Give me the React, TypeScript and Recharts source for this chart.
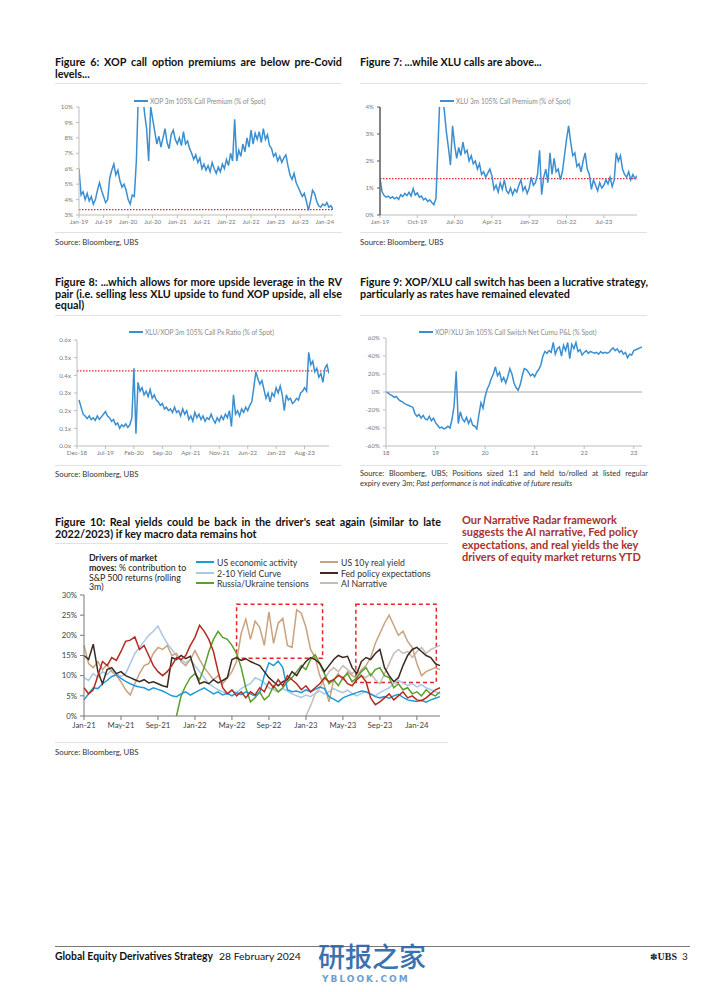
import React from "react";
import { LineChart, Line, XAxis, YAxis, ReferenceLine, ReferenceArea } from "recharts";

const FONT = "Lato, 'Open Sans', sans-serif";
const BLUE = "#3b8fd0";
const RED_DOT = "#e3262b";
const HALF = 0.5; // semi-monthly sampling step (months)
const TITLE_SIZE = 10.8;

// ---------- Figure 6: XOP 3m 105% call premium (% of spot), Jan-19 .. Feb-24 ----------
const fig6Values = [
  6.0, 4.3, 4.5, 4.0, 4.4, 3.9, 4.2, 3.7, 4.0, 4.6,
  5.1, 4.6, 4.2, 3.8, 4.0, 5.4, 5.9, 6.3, 5.6, 5.9,
  5.2, 4.8, 5.0, 4.6, 4.0, 3.7, 4.3, 4.2, 6.5, 11.0,
  12.0, 11.0, 9.6, 8.6, 6.5, 10.0, 9.2, 8.4, 7.6, 8.1,
  7.4, 8.0, 8.6, 7.7, 7.3, 8.2, 8.5, 7.9, 7.6, 8.0,
  7.5, 8.4, 7.6, 7.8, 7.3, 7.0, 6.6, 6.9, 6.4, 6.7,
  6.0, 6.3, 5.9, 6.2, 5.8, 6.4, 6.0, 5.7, 6.1, 5.8,
  6.3, 6.0, 6.6, 6.2, 7.0, 6.5, 9.2, 6.5, 7.2, 6.8,
  7.6, 7.1, 8.0, 7.4, 8.5, 7.6, 8.3, 7.9, 8.4, 7.7,
  8.6, 7.9, 8.2, 7.5, 7.3, 6.8, 7.0, 6.5, 6.8, 6.4,
  6.7, 6.9, 6.2, 5.6, 5.3, 5.7, 5.1, 4.8, 4.5, 4.2,
  4.4, 3.9, 3.3, 3.9, 4.6, 4.4, 3.9, 3.6, 3.5, 3.7,
  3.6, 3.8, 3.5, 3.6, 3.35,
];
const fig6Ticks = [0, 6, 12, 18, 24, 30, 36, 42, 48, 54, 60];
const fig6Labels = ["Jan-19", "Jul-19", "Jan-20", "Jul-20", "Jan-21", "Jul-21", "Jan-22", "Jul-22", "Jan-23", "Jul-23", "Jan-24"];
const fig6YTicks = [3, 4, 5, 6, 7, 8, 9, 10];
const fig6Ref = 3.35;

// ---------- Figure 7: XLU 3m 105% call premium (% of spot) ----------
const fig7Values = [
  1.36, 0.86, 0.72, 0.66, 0.70, 0.62, 0.68, 0.60, 0.66, 0.58,
  0.75, 0.68, 0.80, 0.72, 0.84, 0.70, 0.98, 0.74, 0.82, 0.66,
  0.70, 0.56, 0.62, 0.50, 0.56, 0.46, 0.38, 0.62, 2.6, 4.6,
  4.4, 3.9, 3.1, 2.5, 1.85, 3.3, 2.6, 2.1, 2.5, 2.2,
  2.7, 2.3, 2.4, 2.0, 2.2, 1.9, 2.0, 1.7, 1.9, 1.5,
  1.6, 1.4, 1.55, 1.7, 1.45, 0.95, 1.1, 0.85, 1.2, 0.95,
  1.3, 0.9, 0.8, 1.0, 0.75, 0.95, 0.85, 1.1, 1.3, 0.9,
  1.05, 0.8, 1.0, 1.4, 1.1, 1.2, 1.5, 2.4, 0.75, 1.4,
  1.7, 1.2, 2.3, 1.5, 2.1, 1.6, 1.7, 1.3, 1.6, 2.2,
  2.8, 3.3, 2.7, 2.2, 2.3, 1.8, 1.9, 1.6, 2.0, 2.3,
  1.7, 1.5, 0.95, 1.3, 1.1, 0.9, 1.2, 1.0, 1.1, 1.3,
  1.15, 1.4, 1.05, 1.3, 2.3, 2.0, 2.2, 1.7, 1.5, 1.4,
  1.6, 1.3, 1.5, 1.35, 1.45,
];
const fig7Ticks = [0, 9, 18, 27, 36, 45, 54];
const fig7Labels = ["Jan-19", "Oct-19", "Jul-20", "Apr-21", "Jan-22", "Oct-22", "Jul-23"];
const fig7YTicks = [0, 1, 2, 3, 4];
const fig7Ref = 1.35;

// ---------- Figure 8: XLU/XOP 3m 105% call px ratio, starts half a month after Dec-18 ----------
const fig8Start = 0.5;
const fig8Values = [
  0.26, 0.22, 0.18, 0.17, 0.155, 0.17, 0.15, 0.16, 0.145, 0.17,
  0.15, 0.165, 0.18, 0.195, 0.17, 0.16, 0.14, 0.15, 0.12, 0.13,
  0.10, 0.12, 0.11, 0.125, 0.105, 0.12, 0.16, 0.44, 0.07, 0.36,
  0.31, 0.33, 0.29, 0.31, 0.28, 0.32, 0.27, 0.29, 0.26, 0.25,
  0.23, 0.24, 0.21, 0.22, 0.2, 0.21, 0.19, 0.22, 0.19, 0.2,
  0.17, 0.21, 0.18, 0.2, 0.15, 0.17, 0.14, 0.19, 0.16, 0.18,
  0.15, 0.17, 0.14, 0.16, 0.15, 0.18, 0.15, 0.13, 0.16, 0.14,
  0.17, 0.15, 0.18, 0.16, 0.2, 0.11, 0.29, 0.18, 0.2, 0.17,
  0.21, 0.19, 0.22, 0.2, 0.23, 0.25, 0.33, 0.42, 0.38, 0.35,
  0.37, 0.32, 0.27, 0.3, 0.25, 0.3, 0.28, 0.33, 0.3, 0.34,
  0.29, 0.2, 0.29, 0.26, 0.27, 0.24, 0.25, 0.27, 0.26, 0.3,
  0.31, 0.33, 0.31, 0.53, 0.46, 0.48, 0.42, 0.44, 0.39, 0.41,
  0.36, 0.44, 0.46, 0.41,
];
const fig8Ticks = [0, 7, 14, 21, 28, 35, 42, 49, 56];
const fig8Labels = ["Dec-18", "Jul-19", "Feb-20", "Sep-20", "Apr-21", "Nov-21", "Jun-22", "Jan-23", "Aug-23"];
const fig8YTicks = [0, 0.1, 0.2, 0.3, 0.4, 0.5, 0.6];
const fig8Ref = 0.425;

// ---------- Figure 9: XOP/XLU 3m 105% call switch net cumulative P&L (% spot) ----------
const fig9Values = [
  0, -1, -3, -4, -6, -5, -8, -10, -11, -13,
  -14, -15, -16, -17, -24, -27, -25, -29, -26, -30,
  -31, -27, -32, -29, -34, -37, -40, -39, -41, -40,
  -38, -40, -30, -15, 23, -35, -22, -30, -33, -28,
  -35, -30, -37, -38, -41, -25, -12, -18, -5, 3,
  8, 15, 20, 28, 18, 22, 12, 16, 10, 17,
  26, 20, 10, 5, 2, 8, 18, 26, 25, 22,
  18, 20, 17, 22, 25, 30, 40, 45, 43, 46,
  44, 55, 42, 48, 50, 40, 52, 46, 55, 37,
  53, 48, 55, 45, 47, 41, 44, 46, 43, 45,
  44, 43, 44, 42, 45, 43, 44, 43, 44, 47,
  49, 46, 48, 44, 46, 42, 44, 38, 42, 41,
  46, 47, 48, 49, 50,
];
const fig9Ticks = [0, 12, 24, 36, 48, 60];
const fig9Labels = ["18", "19", "20", "21", "22", "23"];
const fig9YTicks = [-60, -40, -20, 0, 20, 40, 60];

// ---------- Figure 10: Drivers of market moves (% contribution), Jan-21 .. mid Mar-24 ----------
const fig10Blue = [
  4.0, 5.5, 7.0, 6.8, 8.0, 8.8, 9.8, 10.2, 9.3, 8.6,
  8.0, 7.5, 7.2, 7.0, 6.4, 7.0, 6.6, 6.2, 5.6, 5.0,
  4.8, 5.5, 6.0, 5.2, 5.8, 6.4, 7.0, 6.2, 5.5, 6.0,
  5.2, 5.6, 5.0, 5.8, 5.3, 6.0, 5.5, 5.0, 5.8, 10.0,
  13.2, 12.5, 13.6, 12.0, 6.5, 6.0, 6.2, 5.8, 6.5, 6.0,
  6.6, 7.2, 6.8, 4.8, 4.2, 3.5, 4.5, 5.0, 5.4, 5.8,
  6.2, 6.0, 5.5, 4.8, 4.5, 4.8, 4.4, 5.0, 5.4, 4.6,
  4.0, 3.8, 3.6, 3.9, 3.4, 4.0, 4.4, 4.8,
];
const fig10LightBlue = [
  9.5, 8.8, 10.5, 9.6, 11.0, 10.2, 11.5, 10.5, 9.8, 10.5,
  13.0, 15.5, 17.0, 18.5, 20.0, 21.0, 22.3, 20.0, 18.0, 16.5,
  15.0, 14.0, 13.2, 14.0, 12.5, 11.0, 9.5, 8.0, 7.2, 6.5,
  6.0, 5.5, 6.2, 5.8, 6.8, 7.5, 8.0, 9.5, 9.0, 8.2,
  7.0, 6.5, 6.0, 6.8, 6.2, 5.5, 5.0, 4.6, 5.2, 4.8,
  5.6, 6.2, 5.5, 6.0, 6.8, 6.2, 5.8, 6.4, 5.6, 5.0,
  5.6, 6.0, 5.4, 5.0, 5.8, 6.4, 7.0, 8.0, 8.8, 8.2,
  7.5, 8.0, 7.2, 7.8, 7.0, 6.5, 6.0, 5.5,
];
const fig10Green = [
  null, null, null, null, null, null, null, null, null, null,
  null, null, null, null, null, null, null, null, null, null,
  0, 5.0, 7.5, 9.5, 10.5, 9.0, 12.0, 16.0, 19.0, 21.0,
  19.5, 19.0, 17.5, 15.5, 12.0, 7.0, 3.5, 4.5, 6.0, 4.0,
  5.0, 7.5, 6.0, 7.0, 8.5, 9.5, 11.0, 12.5, 11.5, 14.0,
  15.2, 13.0, 10.5, 8.0, 9.0, 7.5, 9.5, 10.5, 8.5, 9.5,
  11.0, 12.0, 10.0, 11.5, 12.0, 10.0, 9.5, 7.0, 8.0, 6.5,
  7.0, 5.5, 6.0, 5.0, 6.5, 5.5, 5.0, 6.0,
];
const fig10Tan = [
  17.5, 13.0, 12.0, 13.5, 11.5, 12.8, 11.0, 10.0, 8.5, 6.5,
  5.2, 8.0, 10.5, 12.5, 13.0, 15.5, 17.0, 16.5, 17.5, 15.0,
  15.5, 13.5, 12.5, 14.0, 16.2, 14.0, 12.0, 10.5, 9.0, 10.0,
  8.0, 9.5, 11.0, 13.5, 20.5, 24.0, 19.0, 23.5, 22.0, 17.5,
  25.8, 18.0, 23.0, 24.2, 17.5, 17.0, 26.3, 25.5, 22.0, 16.5,
  14.5, 10.0, 7.5, 3.5, 9.0, 10.5, 9.0, 11.0, 10.0, 9.5,
  11.5, 12.5, 14.5, 18.0, 20.5, 23.0, 25.0, 22.5, 20.0, 21.0,
  18.5, 17.0, 13.0, 10.0, 11.0, 11.5, 12.0, 11.5,
];
const fig10Dark = [
  15.0, 14.0, 17.8, 11.0, 8.0, 11.5, 12.0, 10.5, 11.0, 10.0,
  9.5, 9.0, 8.5, 9.0, 8.2, 8.5, 8.0, 7.5, 7.2, 14.5,
  14.0, 15.0, 14.2, 14.8, 11.0, 8.0, 8.5, 8.0, 9.0, 8.2,
  8.8, 9.5, 14.0, 14.5, 13.8, 14.2, 13.5, 13.0, 12.5, 11.0,
  9.5, 8.5, 7.5, 8.5, 9.0, 11.0, 10.0, 12.0, 13.5, 14.5,
  14.0, 13.0, 11.0, 12.5, 14.0, 15.0, 14.5, 14.8, 12.0, 10.5,
  13.5, 14.5, 14.0, 15.5, 16.5, 12.0, 10.0, 8.5, 9.5, 12.5,
  15.0, 16.5, 17.0, 16.0, 15.0, 14.5, 13.0, 12.5,
];
const fig10AI = [
  null, null, null, null, null, null, null, null, null, null,
  null, null, null, null, null, null, null, null, null, null,
  null, null, null, null, null, null, null, null, null, null,
  null, null, null, null, null, null, null, null, null, null,
  null, null, null, null, null, null, null, null,
  0, 2.5, 5.5, 7.0, 9.0, 11.0, 12.0, 11.0, 12.5, 11.5,
  10.5, 11.5, 10.0, 9.5, 10.5, 9.0, 8.0, 10.5, 13.0, 15.5,
  16.5, 15.5, 16.0, 14.5, 16.0, 17.0, 15.5, 16.5, 17.0, 17.5,
];
const fig10Red = [
  7.0, 5.5, 6.5, 10.0, 13.5, 12.5, 14.5, 13.8, 16.0, 18.5,
  18.8, 19.6, 16.5, 17.5, 15.0, 12.5, 11.0, 10.0, 11.0, 12.5,
  14.5, 14.0, 15.0, 17.5, 19.5, 22.5, 21.0, 19.0, 16.0, 11.0,
  7.0, 5.5, 6.5, 5.0, 6.0, 4.5, 6.0, 5.2, 7.0, 6.0,
  8.5, 7.0, 9.0, 7.5, 10.0, 9.0, 8.0, 6.5, 7.5, 6.0,
  7.0, 8.0, 9.5, 8.5, 9.0, 10.0, 9.5, 8.0, 7.5, 9.0,
  10.0, 8.5, 4.5, 2.8, 3.5, 4.5, 5.5, 4.0, 5.0, 6.0,
  4.5, 5.0, 4.0, 3.8, 4.5, 5.5, 6.5, 7.0,
];
const fig10Ticks = [0, 4, 8, 12, 16, 20, 24, 28, 32, 36];
const fig10Labels = ["Jan-21", "May-21", "Sep-21", "Jan-22", "May-22", "Sep-22", "Jan-23", "May-23", "Sep-23", "Jan-24"];
const fig10YTicks = [0, 5, 10, 15, 20, 25, 30];
const fig10Box1 = { x1: 16.5, x2: 25.8, y1: 14.3, y2: 27.7 };
const fig10Box2 = { x1: 29.4, x2: 38.1, y1: 8.3, y2: 27.7 };

const C = {
  blue: "#1e9bd7",
  lightBlue: "#a9c7e6",
  green: "#5b9e2d",
  tan: "#c9a27e",
  dark: "#3a2a22",
  ai: "#c6beb6",
  red: "#b52a1f",
};

const toRows = (vals: (number | null)[], start = 0) => vals.map((v, i) => ({ m: start + i * HALF, v }));

const fig10Rows = fig10Blue.map((_, i) => ({
  m: i * HALF,
  blue: fig10Blue[i],
  lightBlue: fig10LightBlue[i],
  green: fig10Green[i],
  tan: fig10Tan[i],
  dark: fig10Dark[i],
  ai: fig10AI[i],
  red: fig10Red[i],
}));

type TitleProps = { left: number; top: number; width: number; lines: React.ReactNode[]; size?: number; lh?: number; color?: string; weight?: number; justify?: boolean };
const TextBlock = ({ left, top, width, lines, size = TITLE_SIZE, lh = 12, color = "#111", weight = 700, justify = true }: TitleProps) => (
  <div style={{ position: "absolute", left, top, width, fontFamily: FONT, fontWeight: weight, fontSize: size, lineHeight: `${lh}px`, color }}>
    {lines.map((l, i) => {
      const j = justify && i < lines.length - 1;
      return (
        <div key={i} style={{ textAlign: j ? "justify" : "left", textAlignLast: j ? "justify" : "left", whiteSpace: "nowrap" } as React.CSSProperties}>
          {l}
        </div>
      );
    })}
  </div>
);

const Rule = ({ left, top, width, color = "#e2e2e2" }: { left: number; top: number; width: number; color?: string }) => (
  <div style={{ position: "absolute", left, top, width, height: 1, background: color }} />
);

const MiniLegend = ({ left, top, text }: { left: number; top: number; text: string }) => (
  <div style={{ position: "absolute", left, top, display: "flex", alignItems: "center", fontFamily: FONT, fontSize: 6.6, color: "#8a8a8a", whiteSpace: "nowrap" }}>
    <div style={{ width: 14, height: 1.8, background: BLUE, marginRight: 2 }} />
    <span>{text}</span>
  </div>
);

type SmallProps = {
  left: number; top: number; width: number; height: number;
  data: { m: number; v: number | null }[];
  xDomain: [number, number]; xTicks: number[]; xLabels: string[];
  yDomain: [number, number]; yTicks: number[]; yFormat: (v: number) => string;
  yAxisWidth: number; margin: { top: number; right: number; bottom: number; left: number };
  xAxisHeight: number; refY?: number; zeroLine?: boolean; axisColor: string; axisWidth?: number;
};

const SmallChart = (p: SmallProps) => {
  const tick = { fontSize: 6.2, fill: "#7a7a7a", fontFamily: FONT };
  return (
    <div style={{ position: "absolute", left: p.left, top: p.top }}>
      <LineChart width={p.width} height={p.height} data={p.data} margin={p.margin}>
        <XAxis
          dataKey="m" type="number" domain={p.xDomain} ticks={p.xTicks} interval={0}
          tickFormatter={(v: number) => p.xLabels[p.xTicks.indexOf(v)] ?? ""}
          height={p.xAxisHeight} tick={tick} tickSize={3} tickMargin={2}
          axisLine={{ stroke: "#bdbdbd" }} tickLine={{ stroke: "#bdbdbd" }} allowDataOverflow
        />
        <YAxis
          type="number" domain={p.yDomain} ticks={p.yTicks} interval={0} tickFormatter={p.yFormat}
          width={p.yAxisWidth} tick={tick} tickSize={3} tickMargin={3}
          axisLine={{ stroke: p.axisColor, strokeWidth: p.axisWidth ?? 1 }} tickLine={{ stroke: p.axisColor }} allowDataOverflow
        />
        {p.zeroLine && <ReferenceLine y={0} stroke="#a8a8a8" strokeWidth={1} />}
        {p.refY !== undefined && (
          <ReferenceLine y={p.refY} stroke={RED_DOT} strokeDasharray="1.5 1.5" strokeWidth={1.2} />
        )}
        <Line dataKey="v" type="linear" stroke={BLUE} strokeWidth={1.5} dot={false} isAnimationActive={false} />
      </LineChart>
    </div>
  );
};

const LegendItem = ({ left, top, color, text }: { left: number; top: number; color: string; text: string }) => (
  <div style={{ position: "absolute", left, top, display: "flex", alignItems: "center", fontFamily: FONT, fontSize: 8.7, color: "#333", whiteSpace: "nowrap", height: 10 }}>
    <div style={{ width: 18, height: 2.2, background: color, marginRight: 3 }} />
    <span>{text}</span>
  </div>
);

export default function App() {
  const tick10 = { fontSize: 7.8, fill: "#444", fontFamily: FONT };
  const srcProps = { size: 7.8, lh: 10, weight: 400, color: "#333", justify: false };
  return (
    <div style={{ position: "absolute", left: 0, top: 0, width: 702, height: 992, background: "#fff", overflow: "hidden" }}>
      {/* Figure 6 */}
      <TextBlock left={55} top={56} width={287} lines={["Figure 6: XOP call option premiums are below pre-Covid", "levels..."]} />
      <Rule left={55} top={83} width={287} />
      <MiniLegend left={134} top={97} text="XOP 3m 105% Call Premium (% of Spot)" />
      <SmallChart
        left={35} top={97} width={305} height={138}
        data={toRows(fig6Values)} xDomain={[0, 62]} xTicks={fig6Ticks} xLabels={fig6Labels}
        yDomain={[3, 10]} yTicks={fig6YTicks} yFormat={(v) => `${v}%`}
        yAxisWidth={44} margin={{ top: 10, right: 7, bottom: 6, left: 0 }} xAxisHeight={14}
        refY={fig6Ref} axisColor="#bdbdbd"
      />
      <Rule left={55} top={232} width={287} />
      <TextBlock left={55} top={237} width={287} lines={["Source: Bloomberg, UBS"]} {...srcProps} />

      {/* Figure 7 */}
      <TextBlock left={360} top={56} width={287} lines={["Figure 7: ...while XLU calls are above..."]} justify={false} />
      <Rule left={360} top={83} width={287} />
      <MiniLegend left={440} top={97} text="XLU 3m 105% Call Premium (% of Spot)" />
      <SmallChart
        left={340} top={97} width={305} height={138}
        data={toRows(fig7Values)} xDomain={[0, 62]} xTicks={fig7Ticks} xLabels={fig7Labels}
        yDomain={[0, 4]} yTicks={fig7YTicks} yFormat={(v) => `${v}%`}
        yAxisWidth={40} margin={{ top: 10, right: 8, bottom: 6, left: 0 }} xAxisHeight={14}
        refY={fig7Ref} axisColor="#5a5a5a" axisWidth={1.5}
      />
      <Rule left={360} top={232} width={287} />
      <TextBlock left={360} top={237} width={287} lines={["Source: Bloomberg, UBS"]} {...srcProps} />

      {/* Figure 8 */}
      <TextBlock left={55} top={276} width={287} lines={["Figure 8: ...which allows for more upside leverage in the RV", "pair (i.e. selling less XLU upside to fund XOP upside, all else", "equal)"]} lh={11.7} />
      <Rule left={55} top={315} width={287} />
      <MiniLegend left={129} top={328} text="XLU/XOP 3m 105% Call Px Ratio (% of Spot)" />
      <SmallChart
        left={35} top={330} width={302} height={130}
        data={toRows(fig8Values, fig8Start)} xDomain={[0, 62]} xTicks={fig8Ticks} xLabels={fig8Labels}
        yDomain={[0, 0.6]} yTicks={fig8YTicks} yFormat={(v) => `${v.toFixed(1)}x`}
        yAxisWidth={42} margin={{ top: 10, right: 8, bottom: 0, left: 0 }} xAxisHeight={14}
        refY={fig8Ref} axisColor="#bdbdbd"
      />
      <Rule left={55} top={465} width={287} />
      <TextBlock left={55} top={469} width={287} lines={["Source: Bloomberg, UBS"]} {...srcProps} />

      {/* Figure 9 */}
      <TextBlock left={360} top={276} width={288} lines={["Figure 9: XOP/XLU call switch has been a lucrative strategy,", "particularly as rates have remained elevated"]} lh={11.7} />
      <Rule left={360} top={315} width={287} />
      <MiniLegend left={419} top={328} text="XOP/XLU 3m 105% Call Switch Net Cumu P&L (% Spot)" />
      <SmallChart
        left={345} top={328} width={305} height={132}
        data={toRows(fig9Values)} xDomain={[0, 62]} xTicks={fig9Ticks} xLabels={fig9Labels}
        yDomain={[-60, 60]} yTicks={fig9YTicks} yFormat={(v) => `${v}%`}
        yAxisWidth={41} margin={{ top: 10, right: 8, bottom: 0, left: 0 }} xAxisHeight={14}
        zeroLine axisColor="#bdbdbd"
      />
      <Rule left={360} top={465} width={287} />
      <TextBlock
        left={360} top={469} width={288} size={7.5} lh={9.5} weight={400} color="#333"
        lines={[
          "Source: Bloomberg, UBS; Positions sized 1:1 and held to/rolled at listed regular",
          <span key="s">expiry every 3m; <i>Past performance is not indicative of future results</i></span>,
        ]}
      />

      {/* Figure 10 */}
      <TextBlock left={55} top={516} width={386} lines={["Figure 10: Real yields could be back in the driver's seat again (similar to late", "2022/2023) if key macro data remains hot"]} />
      <Rule left={55} top={543} width={393} />
      <TextBlock
        left={462} top={514} width={225} color="#a8322d" size={11}
        lines={["Our Narrative Radar framework", "suggests the AI narrative, Fed policy", "expectations, and real yields the key", "drivers of equity market returns YTD"]}
        justify={false} lh={12.3}
      />
      <div style={{ position: "absolute", left: 89, top: 553, width: 110, fontFamily: FONT, fontSize: 8.8, lineHeight: "9.8px", color: "#222", whiteSpace: "nowrap" }}>
        <b>Drivers of market</b><br /><b>moves:</b> % contribution to<br />S&amp;P 500 returns (rolling<br />3m)
      </div>
      <LegendItem left={196} top={557} color={C.blue} text="US economic activity" />
      <LegendItem left={196} top={568} color={C.lightBlue} text="2-10 Yield Curve" />
      <LegendItem left={196} top={578} color={C.green} text="Russia/Ukraine tensions" />
      <LegendItem left={320} top={557} color={C.tan} text="US 10y real yield" />
      <LegendItem left={320} top={568} color={C.dark} text="Fed policy expectations" />
      <LegendItem left={320} top={578} color={C.ai} text="AI Narrative" />
      <div style={{ position: "absolute", left: 40, top: 585 }}>
        <LineChart width={410} height={150} data={fig10Rows} margin={{ top: 10, right: 10, bottom: 0, left: 0 }}>
          <XAxis
            dataKey="m" type="number" domain={[0, 38.5]} ticks={fig10Ticks} interval={0}
            tickFormatter={(v: number) => fig10Labels[fig10Ticks.indexOf(v)] ?? ""}
            height={19} tick={tick10} tickSize={4} tickMargin={2}
            axisLine={{ stroke: "#777" }} tickLine={{ stroke: "#777" }}
          />
          <YAxis
            type="number" domain={[0, 30]} ticks={fig10YTicks} interval={0} tickFormatter={(v: number) => `${v}%`}
            width={44} tick={tick10} tickSize={4} tickMargin={3}
            axisLine={{ stroke: "#777" }} tickLine={{ stroke: "#777" }}
          />
          <Line dataKey="lightBlue" stroke={C.lightBlue} strokeWidth={1.5} dot={false} isAnimationActive={false} />
          <Line dataKey="ai" stroke={C.ai} strokeWidth={1.5} dot={false} isAnimationActive={false} />
          <Line dataKey="tan" stroke={C.tan} strokeWidth={1.5} dot={false} isAnimationActive={false} />
          <Line dataKey="green" stroke={C.green} strokeWidth={1.5} dot={false} isAnimationActive={false} />
          <Line dataKey="blue" stroke={C.blue} strokeWidth={1.5} dot={false} isAnimationActive={false} />
          <Line dataKey="dark" stroke={C.dark} strokeWidth={1.5} dot={false} isAnimationActive={false} />
          <Line dataKey="red" stroke={C.red} strokeWidth={1.5} dot={false} isAnimationActive={false} />
          <ReferenceArea {...fig10Box1} fill="none" fillOpacity={0} stroke="#e3262b" strokeWidth={1.5} strokeDasharray="4 3" ifOverflow="visible" />
          <ReferenceArea {...fig10Box2} fill="none" fillOpacity={0} stroke="#e3262b" strokeWidth={1.5} strokeDasharray="4 3" ifOverflow="visible" />
        </LineChart>
      </div>
      <Rule left={55} top={742} width={393} />
      <TextBlock left={55} top={747} width={287} lines={["Source: Bloomberg, UBS"]} {...srcProps} />

      {/* Footer */}
      <Rule left={55} top={946} width={635} color="#7a7a7a" />
      <div style={{ position: "absolute", left: 55, top: 949, fontFamily: FONT, fontSize: 10.4, lineHeight: "14px", color: "#111", whiteSpace: "nowrap" }}>
        <b>Global Equity Derivatives Strategy</b>
        <span style={{ marginLeft: 6 }}>28 February 2024</span>
      </div>
      <div style={{ position: "absolute", left: 318, top: 942, fontFamily: "'Noto Sans CJK SC', sans-serif", fontSize: 27, lineHeight: "28px", fontWeight: 500, color: "#2a66a8", whiteSpace: "nowrap", opacity: 0.92 }}>
        研报之家
      </div>
      <div style={{ position: "absolute", left: 322, top: 974, fontFamily: "'DejaVu Sans', sans-serif", fontSize: 9, lineHeight: "10px", fontWeight: 700, color: "#4a86c4", letterSpacing: 2, whiteSpace: "nowrap", opacity: 0.8 }}>
        YBLOOK.COM
      </div>
      <div style={{ position: "absolute", left: 650, top: 949, fontSize: 10, lineHeight: "14px", color: "#222", whiteSpace: "nowrap" }}>
        <span style={{ fontFamily: "'DejaVu Sans', sans-serif", fontSize: 9 }}>✽</span>
        <span style={{ fontFamily: "'Liberation Serif', serif", fontWeight: 700 }}>UBS</span>
        <span style={{ fontFamily: FONT, marginLeft: 5 }}>3</span>
      </div>
    </div>
  );
}
